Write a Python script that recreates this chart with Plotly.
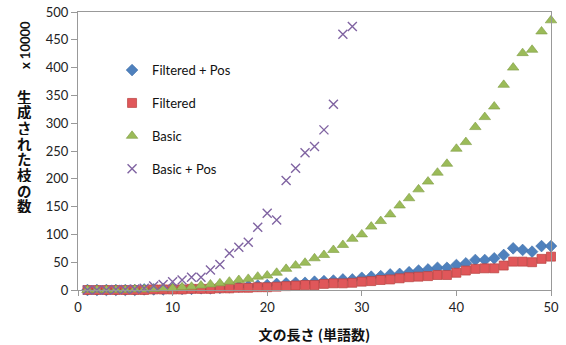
import plotly.graph_objects as go

x_full = list(range(1, 51))
x_basic_pos = list(range(1, 30))

filtered_pos = [0, 0, 0, 0, 0, 0, 1, 1, 1, 2,
                2, 2, 3, 3, 4, 5, 6, 7, 8, 9,
                11, 12, 13, 13, 15, 16, 17, 19, 19, 22,
                24, 25, 28, 29, 32, 35, 37, 40, 40, 45,
                48, 54, 54, 57, 63, 75, 72, 69, 79, 79]
filtered = [0, 0, 0, 0, 0, 0, 0, 1, 1, 1,
            1, 2, 2, 2, 3, 3, 4, 4, 5, 5,
            6, 7, 8, 9, 9, 11, 12, 12, 13, 15,
            16, 18, 19, 21, 23, 24, 25, 27, 27, 31,
            35, 38, 39, 39, 44, 51, 51, 50, 56, 60]
basic = [0, 0, 0, 0, 0, 1, 1, 2, 3, 3,
         5, 6, 8, 10, 12, 15, 18, 20, 24, 26,
         31, 38, 44, 49, 57, 63, 72, 81, 92, 100,
         114, 124, 136, 152, 165, 181, 195, 211, 227, 254,
         266, 293, 311, 330, 369, 400, 426, 432, 465, 485]
basic_pos = [0, 0, 0, 1, 1, 2, 3, 7, 10, 15,
             18, 23, 23, 36, 46, 66, 77, 86, 113, 138,
             126, 197, 219, 247, 258, 288, 334, 460, 474]

names = ["Filtered + Pos", "Filtered", "Basic", "Basic + Pos"]
y_label = "生成された枝の数"
y_unit = "x 10000"
x_label = "文の長さ (単語数)"

FONT = "Lato, 'Open Sans', sans-serif"
CJK = "'Noto Sans CJK JP', sans-serif"

fig = go.Figure()
fig.add_trace(go.Scatter(x=x_full, y=filtered_pos, mode="markers", name=names[0],
                         legendgroup="a", cliponaxis=False,
                         marker=dict(symbol="diamond", size=9, color="#4F81BD",
                                     line=dict(color="#3F6FA8", width=0.6))))
fig.add_trace(go.Scatter(x=x_full, y=filtered, mode="markers", name=names[1],
                         legendgroup="b", cliponaxis=False,
                         marker=dict(symbol="square", size=9, color="#E0575A",
                                     line=dict(color="#B8403D", width=0.7))))
fig.add_trace(go.Scatter(x=x_full, y=basic, mode="markers", name=names[2],
                         legendgroup="c", cliponaxis=False,
                         marker=dict(symbol="triangle-up", size=10, color="#9BBB59",
                                     line=dict(color="#7F9C45", width=0.6))))
fig.add_trace(go.Scatter(x=x_basic_pos, y=basic_pos, mode="markers", name=names[3],
                         legendgroup="d", cliponaxis=False,
                         marker=dict(symbol="x-thin", size=9, color="#8064A2",
                                     line=dict(color="#8064A2", width=1.4))))

fig.update_layout(
    width=566, height=345,
    margin=dict(l=78, r=15, t=12, b=55),
    paper_bgcolor="white", plot_bgcolor="white",
    font=dict(family=FONT, size=13, color="#222"),
    showlegend=True,
    legend=dict(x=0.072, y=0.845, xanchor="left", yanchor="top",
                bgcolor="rgba(0,0,0,0)", tracegroupgap=13,
                font=dict(family=FONT, size=13, color="#111")),
    xaxis=dict(range=[0, 50], dtick=10, showgrid=False, zeroline=False,
               automargin=False, ticklabeloverflow="allow",
               showline=True, linecolor="#999", linewidth=1, mirror=True,
               ticks="outside", ticklen=5, tickcolor="#999",
               tickfont=dict(family=FONT, size=13, color="#222"),
               title=dict(text="<b>" + x_label + "</b>", standoff=16,
                          font=dict(family=CJK, size=14, color="#111"))),
    yaxis=dict(range=[0, 500], dtick=50, showgrid=False, zeroline=False,
               automargin=False, ticklabeloverflow="allow",
               showline=True, linecolor="#999", linewidth=1, mirror=True,
               ticks="outside", ticklen=6, tickcolor="#999",
               tickfont=dict(family=FONT, size=13, color="#222")),
)

fig.add_annotation(text="<b>" + y_unit + "</b>", xref="paper", yref="paper",
                   x=-0.112, y=0.881, xanchor="center", yanchor="middle",
                   textangle=-90, showarrow=False,
                   font=dict(family=FONT, size=13, color="#111"))
# vertical (upright, stacked) Japanese axis label
for i, ch in enumerate(y_label):
    ypix = 96 + 15.7 * i
    fig.add_annotation(text="<b>" + ch + "</b>", xref="paper", yref="paper",
                       x=-0.114, y=(290 - ypix) / 278, xanchor="center", yanchor="middle",
                       showarrow=False, height=15, borderpad=0,
                       font=dict(family=CJK, size=14.5, color="#111"))

fig.write_html("out.html",
               config={"displayModeBar": False},
               post_script="document.body.style.margin='0';document.body.style.overflow='hidden';")
